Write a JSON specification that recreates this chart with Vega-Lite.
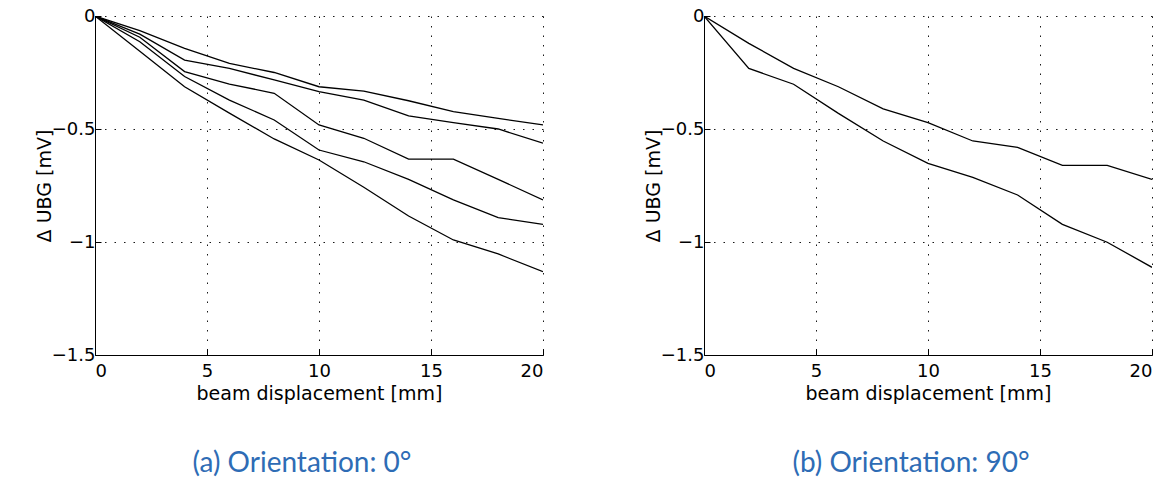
{
  "$schema": "https://vega.github.io/schema/vega-lite/v6.json",
  "background": "white",
  "padding": {"left": 35, "top": 7, "right": 5, "bottom": 5},
  "spacing": 100,
  "datasets": {
    "a": [
      {"s": "A", "x": 0, "y": 0}, {"s": "A", "x": 2, "y": -0.065}, {"s": "A", "x": 4, "y": -0.143}, {"s": "A", "x": 6, "y": -0.21}, {"s": "A", "x": 8, "y": -0.25}, {"s": "A", "x": 10, "y": -0.313}, {"s": "A", "x": 12, "y": -0.332}, {"s": "A", "x": 14, "y": -0.375}, {"s": "A", "x": 16, "y": -0.423}, {"s": "A", "x": 18, "y": -0.453}, {"s": "A", "x": 20, "y": -0.482},
      {"s": "B", "x": 0, "y": 0}, {"s": "B", "x": 2, "y": -0.08}, {"s": "B", "x": 4, "y": -0.195}, {"s": "B", "x": 6, "y": -0.232}, {"s": "B", "x": 8, "y": -0.283}, {"s": "B", "x": 10, "y": -0.335}, {"s": "B", "x": 12, "y": -0.372}, {"s": "B", "x": 14, "y": -0.442}, {"s": "B", "x": 16, "y": -0.472}, {"s": "B", "x": 18, "y": -0.5}, {"s": "B", "x": 20, "y": -0.563},
      {"s": "C", "x": 0, "y": 0}, {"s": "C", "x": 2, "y": -0.094}, {"s": "C", "x": 4, "y": -0.246}, {"s": "C", "x": 6, "y": -0.301}, {"s": "C", "x": 8, "y": -0.342}, {"s": "C", "x": 10, "y": -0.482}, {"s": "C", "x": 12, "y": -0.541}, {"s": "C", "x": 14, "y": -0.633}, {"s": "C", "x": 16, "y": -0.633}, {"s": "C", "x": 18, "y": -0.723}, {"s": "C", "x": 20, "y": -0.814},
      {"s": "D", "x": 0, "y": 0}, {"s": "D", "x": 2, "y": -0.114}, {"s": "D", "x": 4, "y": -0.268}, {"s": "D", "x": 6, "y": -0.372}, {"s": "D", "x": 8, "y": -0.46}, {"s": "D", "x": 10, "y": -0.593}, {"s": "D", "x": 12, "y": -0.645}, {"s": "D", "x": 14, "y": -0.723}, {"s": "D", "x": 16, "y": -0.814}, {"s": "D", "x": 18, "y": -0.892}, {"s": "D", "x": 20, "y": -0.922},
      {"s": "E", "x": 0, "y": 0}, {"s": "E", "x": 2, "y": -0.156}, {"s": "E", "x": 4, "y": -0.313}, {"s": "E", "x": 6, "y": -0.43}, {"s": "E", "x": 8, "y": -0.544}, {"s": "E", "x": 10, "y": -0.637}, {"s": "E", "x": 12, "y": -0.758}, {"s": "E", "x": 14, "y": -0.885}, {"s": "E", "x": 16, "y": -0.991}, {"s": "E", "x": 18, "y": -1.053}, {"s": "E", "x": 20, "y": -1.131}
    ],
    "b": [
      {"s": "F", "x": 0, "y": 0}, {"s": "F", "x": 2, "y": -0.121}, {"s": "F", "x": 4, "y": -0.232}, {"s": "F", "x": 6, "y": -0.313}, {"s": "F", "x": 8, "y": -0.411}, {"s": "F", "x": 10, "y": -0.472}, {"s": "F", "x": 12, "y": -0.553}, {"s": "F", "x": 14, "y": -0.581}, {"s": "F", "x": 16, "y": -0.661}, {"s": "F", "x": 18, "y": -0.661}, {"s": "F", "x": 20, "y": -0.723},
      {"s": "G", "x": 0, "y": 0}, {"s": "G", "x": 2, "y": -0.232}, {"s": "G", "x": 4, "y": -0.302}, {"s": "G", "x": 6, "y": -0.431}, {"s": "G", "x": 8, "y": -0.553}, {"s": "G", "x": 10, "y": -0.652}, {"s": "G", "x": 12, "y": -0.714}, {"s": "G", "x": 14, "y": -0.792}, {"s": "G", "x": 16, "y": -0.922}, {"s": "G", "x": 18, "y": -1.001}, {"s": "G", "x": 20, "y": -1.112}
    ]
  },
  "config": {
    "view": {"stroke": null},
    "font": "DejaVu Sans",
    "axis": {
      "labelFont": "DejaVu Sans", "labelFontSize": 18, "labelColor": "#000",
      "titleFont": "DejaVu Sans", "titleFontSize": 19, "titleFontWeight": "normal", "titleColor": "#000",
      "domainColor": "#000", "domainWidth": 1,
      "tickColor": "#000", "tickSize": -6, "tickWidth": 1,
      "grid": true, "gridColor": "#000", "gridDash": [1.5, 8], "gridWidth": 1, "gridOpacity": 0.9
    },
    "axisX": {"labelPadding": 13},
    "axisY": {"labelPadding": 6},
    "title": {"font": "Lato", "fontSize": 28, "fontWeight": "normal", "color": "#2e6cb5", "orient": "bottom", "offset": 47, "anchor": "middle", "dx": -17}
  },
  "hconcat": [
    {
      "width": 448, "height": 339,
      "title": {"text": "(a) Orientation: 0°"},
      "data": {"name": "a"},
      "mark": {"type": "line", "color": "#000", "strokeWidth": 1.3, "clip": true},
      "encoding": {
        "x": {"field": "x", "type": "quantitative", "scale": {"domain": [0, 20], "nice": false}, "axis": {"values": [0, 5, 10, 15, 20], "title": "beam displacement [mm]", "titlePadding": 4, "format": "~g"}},
        "y": {"field": "y", "type": "quantitative", "scale": {"domain": [-1.5, 0], "nice": false}, "axis": {"values": [-1.5, -1, -0.5, 0], "title": "Δ UBG [mV]", "titlePadding": -3, "format": "~g"}},
        "detail": {"field": "s", "type": "nominal"}
      }
    },
    {
      "width": 448, "height": 339,
      "title": {"text": "(b) Orientation: 90°"},
      "data": {"name": "b"},
      "mark": {"type": "line", "color": "#000", "strokeWidth": 1.3, "clip": true},
      "encoding": {
        "x": {"field": "x", "type": "quantitative", "scale": {"domain": [0, 20], "nice": false}, "axis": {"values": [0, 5, 10, 15, 20], "title": "beam displacement [mm]", "titlePadding": 4, "format": "~g"}},
        "y": {"field": "y", "type": "quantitative", "scale": {"domain": [-1.5, 0], "nice": false}, "axis": {"values": [-1.5, -1, -0.5, 0], "title": "Δ UBG [mV]", "titlePadding": -3, "format": "~g"}},
        "detail": {"field": "s", "type": "nominal"}
      }
    }
  ]
}
